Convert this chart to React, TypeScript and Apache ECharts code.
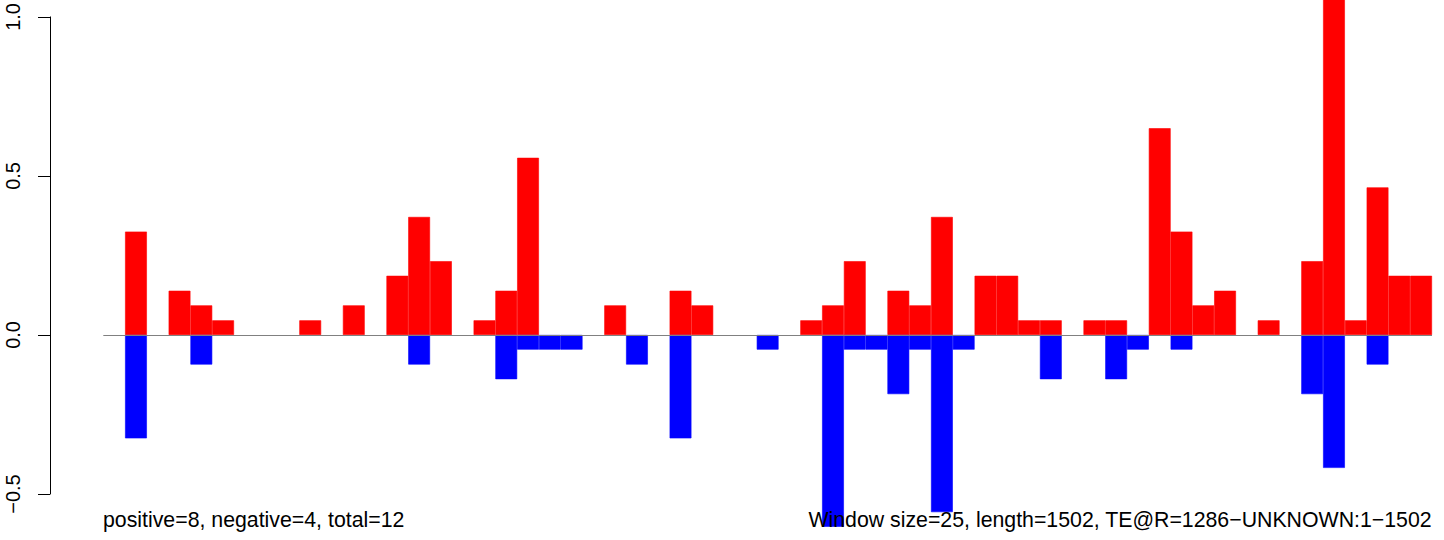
import React, { useEffect, useRef } from "react";
import * as echarts from "echarts";

// 61 windows along the sequence (window size 25)
const windows: string[] = Array.from({ length: 61 }, (_, i) => String(i + 1));

// positive (red) values per window
const positiveValues: number[] = [
  0, 0.325, 0, 0.139, 0.093, 0.046, 0, 0, 0, 0.046,
  0, 0.093, 0, 0.186, 0.371, 0.232, 0, 0.046, 0.139, 0.557,
  0, 0, 0, 0.093, 0, 0, 0.139, 0.093, 0, 0,
  0, 0, 0.046, 0.093, 0.232, 0, 0.139, 0.093, 0.371, 0,
  0.186, 0.186, 0.046, 0.046, 0, 0.046, 0.046, 0, 0.65, 0.325,
  0.093, 0.139, 0, 0.046, 0, 0.232, 1.07, 0.046, 0.464, 0.186,
  0.186,
];

// negative (blue) values per window
const negativeValues: number[] = [
  0, -0.325, 0, 0, -0.093, 0, 0, 0, 0, 0,
  0, 0, 0, 0, -0.093, 0, 0, 0, -0.139, -0.046,
  -0.046, -0.046, 0, 0, -0.093, 0, -0.325, 0, 0, 0,
  -0.046, 0, 0, -0.603, -0.046, -0.046, -0.186, -0.046, -0.557, -0.046,
  0, 0, 0, -0.139, 0, 0, -0.139, -0.046, 0, -0.046,
  0, 0, 0, 0, 0, -0.186, -0.418, 0, -0.093, 0,
  0,
];

const yTicks = { min: -0.5, max: 1.0, interval: 0.5 };

const leftNote = "positive=8, negative=4, total=12";
const rightNote = "Window size=25, length=1502, TE@R=1286\u2212UNKNOWN:1\u22121502";

const noZero = (arr: number[]) => arr.map((v) => (v === 0 ? null : v));

export default function App() {
  const ref = useRef<HTMLDivElement>(null);

  useEffect(() => {
    if (!ref.current) return;
    const chart = echarts.init(ref.current, undefined, { renderer: "svg" });
    const font = "'Liberation Sans', Arial, Helvetica, sans-serif";
    chart.setOption({
      animation: false,
      backgroundColor: "#ffffff",
      grid: { left: 103.3, right: 12, top: 14.3, bottom: 46, containLabel: false },
      xAxis: {
        type: "category",
        data: windows,
        boundaryGap: true,
        axisLine: { show: false },
        axisTick: { show: false },
        axisLabel: { show: false },
        splitLine: { show: false },
      },
      yAxis: {
        type: "value",
        min: yTicks.min,
        max: yTicks.max,
        interval: yTicks.interval,
        offset: 53.3,
        axisLine: { show: true, lineStyle: { color: "#000000", width: 1 } },
        axisTick: { show: true, length: 12, lineStyle: { color: "#000000", width: 1 } },
        axisLabel: {
          show: true,
          rotate: 90,
          margin: 27,
          fontSize: 20,
          fontFamily: font,
          color: "#000000",
          formatter: (v: number) => v.toFixed(1).replace("-", "\u2212"),
        },
        splitLine: { show: false },
      },
      series: [
        {
          type: "bar",
          name: "positive",
          data: noZero(positiveValues),
          barCategoryGap: "0%",
          barGap: "-100%",
          clip: false,
          itemStyle: { color: "#ff0000", borderColor: "#ff0000", borderWidth: 0.6 },
          z: 2,
          markLine: {
            silent: true,
            symbol: "none",
            label: { show: false },
            lineStyle: { color: "#808080", width: 1, type: "solid" },
            data: [{ yAxis: 0 }],
          },
        },
        {
          type: "bar",
          name: "negative",
          data: noZero(negativeValues),
          barCategoryGap: "0%",
          barGap: "-100%",
          clip: false,
          itemStyle: { color: "#0000ff", borderColor: "#0000ff", borderWidth: 0.6 },
          z: 2,
        },
      ],
      graphic: [
        {
          type: "text",
          left: 103,
          top: 509,
          z: 10,
          style: { text: leftNote, fontSize: 21.3, fontFamily: font, fill: "#000000" },
        },
        {
          type: "text",
          right: 12,
          top: 509,
          z: 10,
          style: { text: rightNote, fontSize: 21.3, fontFamily: font, fill: "#000000" },
        },
      ],
    });
    return () => chart.dispose();
  }, []);

  return (
    <div
      ref={ref}
      style={{ position: "absolute", left: 0, top: 0, width: 1444, height: 540 }}
    />
  );
}
